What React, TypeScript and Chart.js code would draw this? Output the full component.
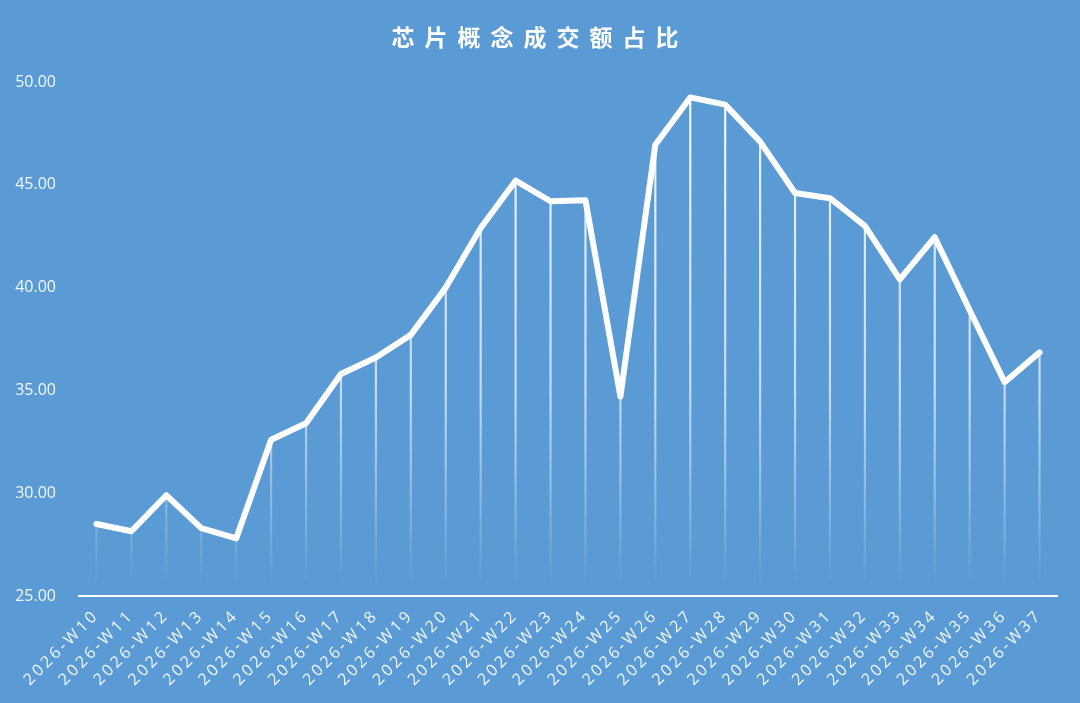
import { useEffect, useRef } from "react";
import { Chart, registerables } from "chart.js";

Chart.register(...registerables);

const weeks = [
  "2026-W10", "2026-W11", "2026-W12", "2026-W13", "2026-W14", "2026-W15", "2026-W16",
  "2026-W17", "2026-W18", "2026-W19", "2026-W20", "2026-W21", "2026-W22", "2026-W23",
  "2026-W24", "2026-W25", "2026-W26", "2026-W27", "2026-W28", "2026-W29", "2026-W30",
  "2026-W31", "2026-W32", "2026-W33", "2026-W34", "2026-W35", "2026-W36", "2026-W37",
];

// share of turnover, percent
const share = [
  28.5, 28.15, 29.9, 28.3, 27.8, 32.6, 33.4,
  35.8, 36.6, 37.7, 40.0, 42.9, 45.2, 44.2,
  44.25, 34.7, 46.95, 49.25, 48.9, 47.1, 44.6,
  44.35, 43.0, 40.4, 42.45, 38.9, 35.4, 36.85,
];

const yMin = 25;
const yMax = 50;
const yStep = 5;

const BG = "#5b9bd5";
const TICK_COLOR = "rgba(255,255,255,0.92)";

// x tick labels are drawn after the datasets (z: 1), so spacing set here only hits them
const spacedLabels = {
  id: "spacedLabels",
  afterDatasetsDraw(chart: any) {
    chart.ctx.letterSpacing = "3px";
  },
  afterDraw(chart: any) {
    chart.ctx.letterSpacing = "0px";
  },
};

const App = () => {
  const canvasRef = useRef<HTMLCanvasElement | null>(null);

  useEffect(() => {
    if (!canvasRef.current) return;

    const chart = new Chart(canvasRef.current, {
      type: "bar",
      data: {
        labels: weeks,
        datasets: [
          {
            type: "line",
            label: "占比",
            data: share,
            borderColor: "#ffffff",
            borderWidth: 6,
            pointRadius: 0,
            tension: 0,
            borderJoinStyle: "round",
            borderCapStyle: "round",
            order: 0,
          },
          {
            // thin drop lines under each point
            type: "bar",
            label: "drop",
            data: share,
            barThickness: 1.5,
            base: yMin,
            order: 1,
            backgroundColor: (ctx: any) => {
              const area = ctx.chart.chartArea;
              if (!area) return "rgba(255,255,255,0.6)";
              const g = ctx.chart.ctx.createLinearGradient(0, area.top, 0, area.bottom);
              g.addColorStop(0, "rgba(255,255,255,0.95)");
              g.addColorStop(0.6, "rgba(255,255,255,0.65)");
              g.addColorStop(0.98, "rgba(255,255,255,0.0)");
              g.addColorStop(1, "rgba(255,255,255,0.0)");
              return g;
            },
          },
        ],
      },
      options: {
        animation: false,
        responsive: true,
        maintainAspectRatio: false,
        layout: { padding: { top: 82, right: 23, left: 0, bottom: 0 } },
        plugins: {
          legend: { display: false },
          tooltip: { enabled: false },
        },
        scales: {
          x: {
            offset: true,
            grid: { display: false },
            border: { display: true, color: "#ffffff", width: 2 },
            ticks: {
              z: 1,
              color: TICK_COLOR,
              font: { family: "'Open Sans', 'Noto Sans', sans-serif", size: 16 },
              maxRotation: 45,
              minRotation: 45,
              autoSkip: false,
              padding: 2,
            },
            afterFit: (axis: any) => {
              axis.paddingLeft = 0;
              axis.paddingRight = 0;
              axis.height = 107;
            },
          },
          y: {
            min: yMin,
            max: yMax,
            grid: { display: false },
            border: { display: false },
            ticks: {
              stepSize: yStep,
              color: TICK_COLOR,
              font: { family: "'Open Sans', 'Noto Sans', sans-serif", size: 16 },
              padding: 15,
              callback: (v: any) => Number(v).toFixed(2),
            },
            afterFit: (axis: any) => {
              axis.width = 79;
              axis.paddingTop = 0;
              axis.paddingBottom = 0;
            },
          },
        },
      },
      plugins: [spacedLabels],
    });

    return () => {
      chart.destroy();
    };
  }, []);

  return (
    <div
      style={{
        position: "absolute",
        top: 0,
        left: 0,
        width: 1080,
        height: 703,
        background: BG,
      }}
    >
      <div
        style={{
          position: "absolute",
          top: 18,
          left: 0,
          width: 1080,
          textAlign: "center",
          color: "#ffffff",
          fontFamily: "'Noto Sans CJK SC', sans-serif",
          fontWeight: 700,
          fontSize: 23,
          letterSpacing: 10,
          lineHeight: "36px",
        }}
      >
        芯片概念成交额占比
      </div>
      <canvas ref={canvasRef}></canvas>
    </div>
  );
};

export default App;
